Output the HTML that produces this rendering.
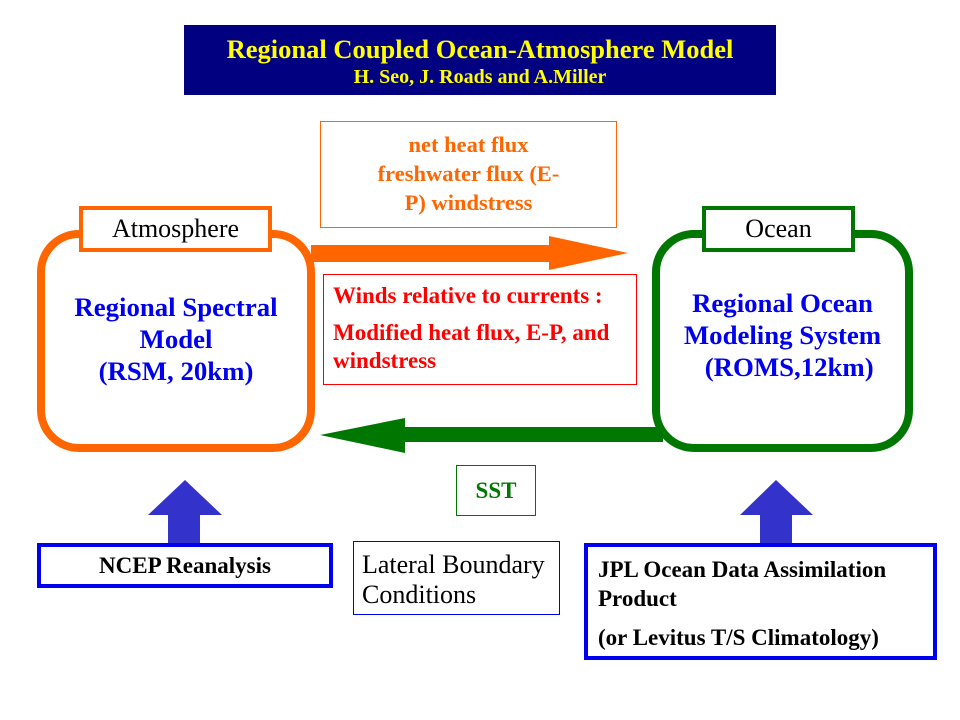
<!DOCTYPE html>
<html><head><style>
body{margin:0;width:960px;height:720px;background:#fff;position:relative;overflow:hidden;font-family:"Liberation Serif",serif}
.a{position:absolute;box-sizing:border-box;white-space:nowrap}
.b{font-weight:bold}
</style></head><body>
<div class="a b" style="left:184px;top:25px;width:592px;height:70px;background:#000080;color:#ffff00;text-align:center">
<div style="font-size:26.5px;margin-top:8px;line-height:32px">Regional Coupled Ocean-Atmosphere Model</div>
<div style="font-size:20px;line-height:24px">H. Seo, J. Roads and A.Miller</div></div>

<div class="a b" style="left:320px;top:121px;width:297px;height:107px;border:1px solid #ff6600;color:#ff6600;font-size:22.5px;text-align:center;line-height:29px;padding-top:8px">net heat flux<br>freshwater flux (E-<br>P) windstress</div>

<svg class="a" style="left:0;top:0" width="960" height="720">
<rect x="41" y="234" width="270" height="214" rx="38" fill="#fff" stroke="#ff6600" stroke-width="8"/>
<rect x="656" y="234" width="253" height="214" rx="38" fill="#fff" stroke="#007700" stroke-width="8"/>
<polygon points="311,245 549,245 549,236 628,253 549,270 549,262 311,262" fill="#ff6600"/>
<polygon points="663,427 405,427 405,418 320,435 405,453 405,442 663,442" fill="#007700"/>
<polygon points="185,480 222,515 200,515 200,545 168,545 168,515 148,515" fill="#3333cc"/>
<polygon points="776,480 813,515 792,515 792,545 760,545 760,515 740,515" fill="#3333cc"/>
</svg>

<div class="a" style="left:79px;top:206px;width:193px;height:46px;border:4px solid #ff6600;background:#fff;font-size:26px;text-align:center;line-height:38px">Atmosphere</div>
<div class="a" style="left:702px;top:206px;width:153px;height:46px;border:4px solid #007700;background:#fff;font-size:26px;text-align:center;line-height:38px">Ocean</div>

<div class="a b" style="left:41px;top:291px;width:270px;color:#0000ee;font-size:26.8px;text-align:center;line-height:32px">Regional Spectral<br>Model<br>(RSM, 20km)</div>
<div class="a b" style="left:656px;top:287px;width:253px;color:#0000ee;font-size:26.8px;text-align:center;line-height:32px">Regional Ocean<br>Modeling System<br>&nbsp;&nbsp;(ROMS,12km)</div>

<div class="a b" style="left:323px;top:274px;width:314px;height:111px;border:1px solid #ff0000;color:#ff0000;font-size:23px;padding:7px 0 0 9px;line-height:28px">Winds relative to currents :<div style="margin-top:9px">Modified heat flux, E-P, and<br>windstress</div></div>

<div class="a b" style="left:456px;top:465px;width:80px;height:51px;border:1px solid #007700;color:#007700;font-size:23px;text-align:center;line-height:50px">SST</div>

<div class="a b" style="left:37px;top:543px;width:296px;height:45px;border:4px solid #0000ee;font-size:23px;text-align:center;line-height:38px">NCEP Reanalysis</div>
<div class="a" style="left:353px;top:541px;width:207px;height:74px;border:1px solid #0000ee;font-size:26px;padding:8px 0 0 8px;line-height:30px">Lateral Boundary<br>Conditions</div>
<div class="a b" style="left:584px;top:543px;width:353px;height:117px;border:4px solid #0000ee;font-size:23px;padding:8px 0 0 10px;line-height:29px">JPL Ocean Data Assimilation<br>Product<div style="margin-top:10px">(or Levitus T/S Climatology)</div></div>
</body></html>
